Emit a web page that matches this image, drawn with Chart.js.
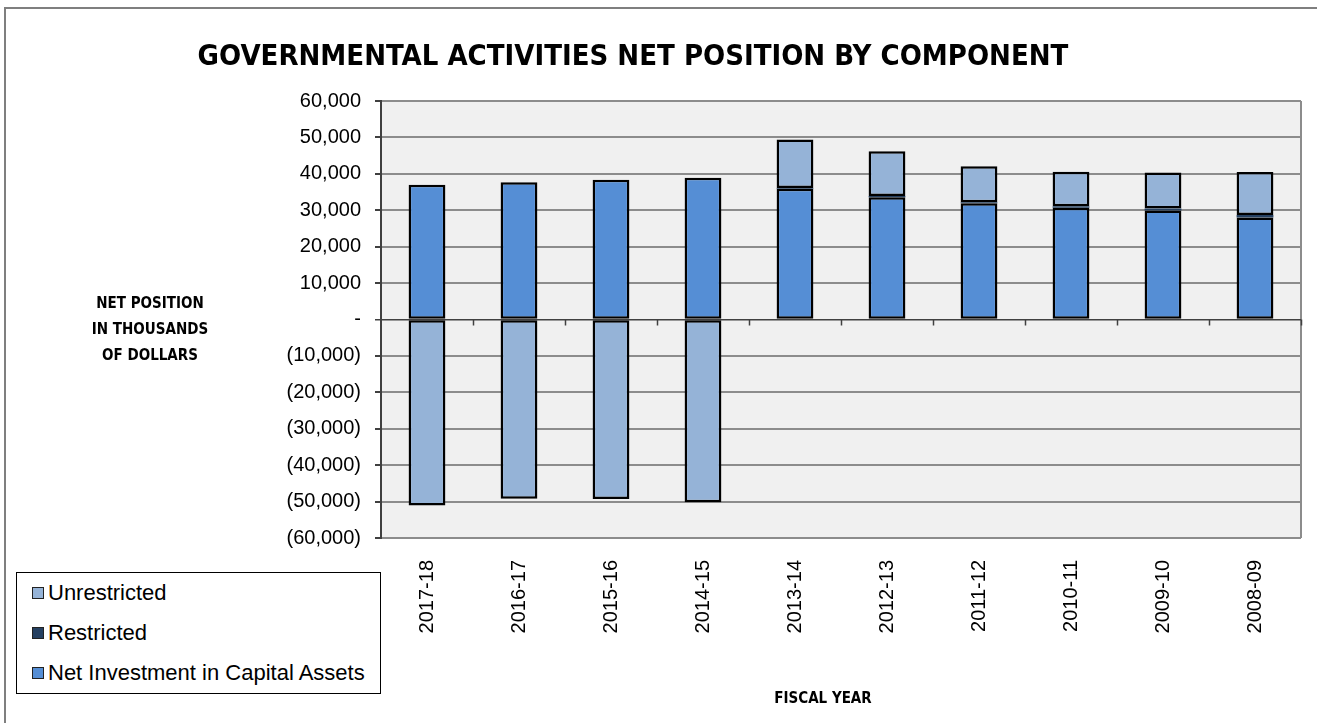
<!DOCTYPE html>
<html>
<head>
<meta charset="utf-8">
<script src="https://cdn.jsdelivr.net/npm/chart.js@4.4.1/dist/chart.umd.min.js"></script>
<style>
  html, body { margin: 0; padding: 0; background: #fff; }
  #wrap { position: relative; width: 1317px; height: 723px; overflow: hidden; }
  #frame { position: absolute; left: 4px; top: 7px; width: 1400px; height: 800px;
           border-left: 2px solid #7f7f7f; border-top: 2px solid #7f7f7f; }
  #chart { position: absolute; left: 0; top: 0; }
  .title { position: absolute; font-family: "DejaVu Sans Condensed", "DejaVu Sans", sans-serif;
           font-stretch: condensed; font-weight: bold; color: #000; white-space: nowrap; }
  #mainTitle { left: 0; width: 1266px; top: 38px; text-align: center; font-size: 29px; }
  #yTitle { left: 70px; width: 160px; top: 290px; text-align: center; font-size: 15px; line-height: 26px; }
  #xTitle { left: 373px; width: 900px; top: 689px; text-align: center; font-size: 15px; }
  #legend { position: absolute; left: 16px; top: 572px; width: 363px; height: 120px;
            border: 1px solid #000; background: #fff; font-family: "Liberation Sans", Arial, sans-serif;
            font-size: 22px; color: #000; }
  .item { position: absolute; left: 15px; height: 26px; line-height: 26px; white-space: nowrap; }
  .box { display: inline-block; width: 10px; height: 10px; border: 1px solid #222; margin-right: 4px; vertical-align: 1px; }
</style>
</head>
<body>
<div id="wrap">
  <div id="frame"></div>
  <canvas id="chart" width="1317" height="723"></canvas>
  <div id="mainTitle" class="title">GOVERNMENTAL ACTIVITIES NET POSITION BY COMPONENT</div>
  <div id="yTitle" class="title">NET POSITION<br>IN THOUSANDS<br>OF DOLLARS</div>
  <div id="xTitle" class="title">FISCAL YEAR</div>
  <div id="legend"></div>
</div>
<script>
// fiscal years, newest first
const years = ["2017-18", "2016-17", "2015-16", "2014-15", "2013-14",
               "2012-13", "2011-12", "2010-11", "2009-10", "2008-09"];

// thousands of dollars
const netInvestment = [37000, 37700, 38400, 38900, 35900, 33600, 31900, 30700, 29900, 28000];
const restricted    = [0, 0, 0, 0, 200, 300, 300, 400, 600, 700];
const unrestricted  = [-51100, -49200, -49300, -50200, 13300, 12300, 9900, 9500, 9900, 11800];

const yMin = -60000, yMax = 60000, yStep = 10000;

const fmtThousands = (v) => {
    if (v === 0) return "-";
    const s = Math.abs(v).toLocaleString("en-US");
    return v < 0 ? "(" + s + ")" : s;
};

// grey plot area behind the bars, plus the right edge of the frame
const plotArea = {
    id: "plotArea",
    beforeDraw(chart) {
        const a = chart.chartArea, c = chart.ctx;
        c.save();
        c.fillStyle = "#f0f0f0";
        c.fillRect(a.left, a.top, a.right - a.left, a.bottom - a.top);
        c.strokeStyle = "#8c8c8c";
        c.lineWidth = 2;
        c.beginPath();
        c.moveTo(a.right, a.top);
        c.lineTo(a.right, a.bottom);
        c.stroke();
        c.restore();
    }
};

// category tick marks hanging from the zero line
const zeroTicks = {
    id: "zeroTicks",
    afterDatasetsDraw(chart) {
        const x = chart.scales.x, y = chart.scales.y, c = chart.ctx;
        const y0 = y.getPixelForValue(0);
        const w = (x.right - x.left) / years.length;
        c.save();
        c.strokeStyle = "#404040";
        c.lineWidth = 1.5;
        c.beginPath();
        for (let i = 1; i <= years.length; i++) {
            const px = Math.round(x.left + w * i) + 0.5;
            c.moveTo(px, y0);
            c.lineTo(px, y0 + 6);
        }
        c.stroke();
        c.restore();
    }
};

const barStyle = { borderColor: "#000", borderWidth: 2.5, borderSkipped: false,
                   barPercentage: 0.4, categoryPercentage: 1.0 };

const chart = new Chart(document.getElementById("chart").getContext("2d"), {
    type: "bar",
    data: {
        labels: years,
        datasets: [
            Object.assign({ label: "Net Investment in Capital Assets", data: netInvestment, backgroundColor: "#558ed5" }, barStyle),
            // thin slice, so no outline of its own
            Object.assign({ label: "Restricted", data: restricted, backgroundColor: "#254061" }, barStyle, { borderWidth: 0 }),
            Object.assign({ label: "Unrestricted", data: unrestricted, backgroundColor: "#95b3d7" }, barStyle)
        ]
    },
    options: {
        responsive: false,
        animation: false,
        layout: { padding: { top: 101, right: 16, bottom: 0, left: 0 } },
        plugins: {
            legend: { display: false },
            title: { display: false },
            tooltip: { enabled: false }
        },
        scales: {
            x: {
                stacked: true,
                grid: { display: false },
                border: { display: false },
                ticks: {
                    autoSkip: false, minRotation: 90, maxRotation: 90, padding: 14,
                    color: "#000", font: { family: "'Liberation Sans', Arial, sans-serif", size: 20 }
                },
                afterFit: (s) => { s.height = 723 - 538; }
            },
            y: {
                stacked: true,
                min: yMin, max: yMax,
                grid: {
                    color: (ctx) => ctx.tick && ctx.tick.value === 0 ? "#404040" : "#8c8c8c",
                    lineWidth: (ctx) => ctx.tick && ctx.tick.value === 0 ? 1.5 : 2,
                    tickColor: "#404040", tickLength: 6
                },
                border: { display: true, color: "#404040", width: 2 },
                ticks: {
                    stepSize: yStep, padding: 14, color: "#000",
                    font: { family: "'Liberation Sans', Arial, sans-serif", size: 20 },
                    callback: (v) => fmtThousands(v)
                },
                afterFit: (s) => { s.width = 381; }
            }
        }
    },
    plugins: [plotArea, zeroTicks]
});

// legend box, listed top of stack first
const legendEl = document.getElementById("legend");
chart.data.datasets.slice().reverse().forEach((ds, i) => {
    const row = document.createElement("div");
    row.className = "item";
    row.style.top = (7 + i * 40) + "px";
    row.innerHTML = '<span class="box" style="background:' + ds.backgroundColor + '"></span>' + ds.label;
    legendEl.appendChild(row);
});
</script>
</body>
</html>
